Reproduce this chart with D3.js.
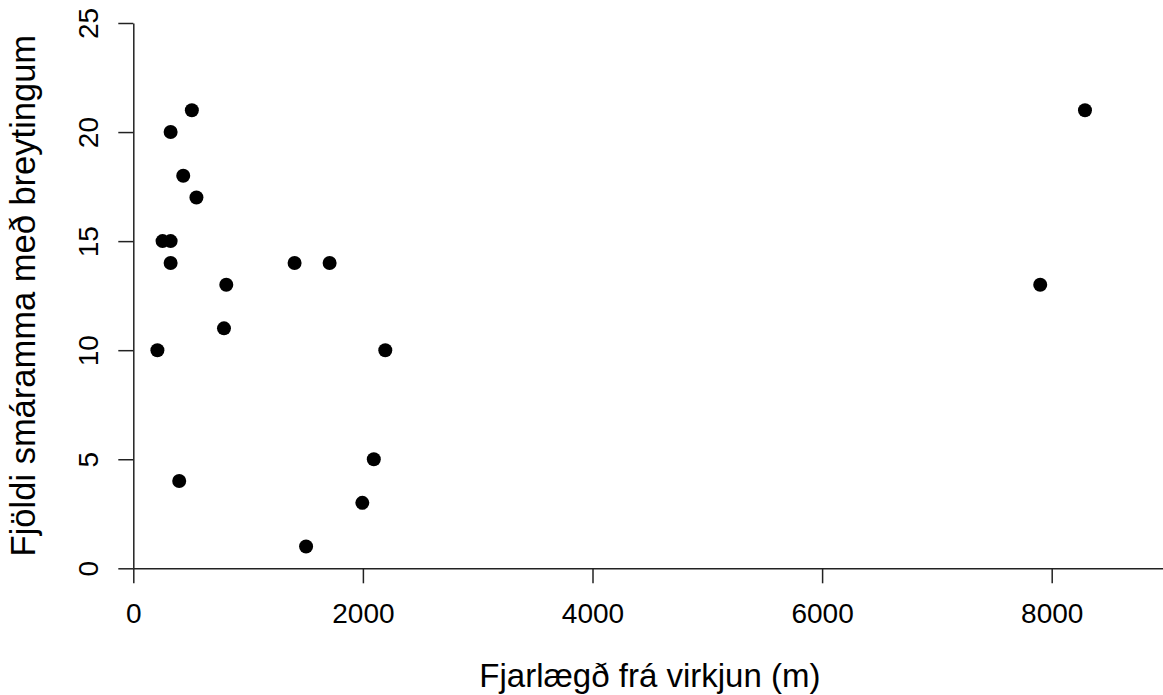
<!DOCTYPE html>
<html>
<head>
<meta charset="utf-8">
<script src="https://cdn.jsdelivr.net/npm/d3@7"></script>
<style>
  body { margin: 0; background: #fff; }
  svg { font-family: "Liberation Sans", Arial, sans-serif; }
</style>
</head>
<body>
<script>
// distance from the power plant (m) and number of frames with changes
const distance = [510, 325, 435, 550, 255, 325, 325, 1405, 1710, 810, 790, 210, 2195, 2095, 400, 1995, 1505, 8290, 7900];
const frames   = [21, 20, 18, 17, 15, 15, 14, 14, 14, 13, 11, 10, 10, 5, 4, 3, 1, 21, 13];

const xTicks = [0, 2000, 4000, 6000, 8000];
const yTicks = [0, 5, 10, 15, 20, 25];

const xLabel = "Fjarlægð frá virkjun (m)";
const yLabel = "Fjöldi smáramma með breytingum";

const w = 1163;
const h = 695;
const plotLeft = 133.3;
const plotRight = 1166.5;
const plotTop = 23;
const plotBottom = 568.3;

// scales
const xScale = d3.scaleLinear()
                 .domain([0, 9000])
                 .range([plotLeft, plotRight]);
const yScale = d3.scaleLinear()
                 .domain([0, 25])
                 .range([plotBottom, plotTop]);

const svg = d3.select("body")
              .append("svg")
              .attr("width", w)
              .attr("height", h);

// x axis
const xAxis = svg.append("g")
   .attr("transform", `translate(0, ${plotBottom})`)
   .call(d3.axisBottom(xScale).tickValues(xTicks).tickSize(15).tickSizeOuter(0).tickFormat(d3.format("d")));

xAxis.selectAll("text")
     .attr("y", 55)
     .attr("dy", "0")
     .style("font-size", "28px")
     .attr("fill", "#000");

// y axis
const yAxis = svg.append("g")
   .attr("transform", `translate(${plotLeft}, 0)`)
   .call(d3.axisLeft(yScale).tickValues(yTicks).tickSize(15).tickSizeOuter(0));

yAxis.selectAll("text")
     .attr("transform", "rotate(-90)")
     .attr("x", 0)
     .attr("y", -35.3)
     .attr("dy", "0")
     .attr("text-anchor", "middle")
     .style("font-size", "28px")
     .attr("fill", "#000");

svg.selectAll(".domain, .tick line")
   .attr("stroke", "#222")
   .attr("stroke-width", 1.5);

// axis titles
svg.append("text")
   .attr("x", (plotLeft + plotRight) / 2)
   .attr("y", 687)
   .attr("text-anchor", "middle")
   .style("font-size", "33px")
   .text(xLabel);

svg.append("text")
   .attr("transform", `translate(35, ${(plotTop + plotBottom) / 2}) rotate(-90)`)
   .attr("text-anchor", "middle")
   .style("font-size", "34.5px")
   .text(yLabel);

// points
svg.selectAll("circle")
   .data(distance)
   .enter()
   .append("circle")
   .attr("cx", d => xScale(d))
   .attr("cy", (d, i) => yScale(frames[i]))
   .attr("r", 7)
   .attr("fill", "#000");
</script>
</body>
</html>
